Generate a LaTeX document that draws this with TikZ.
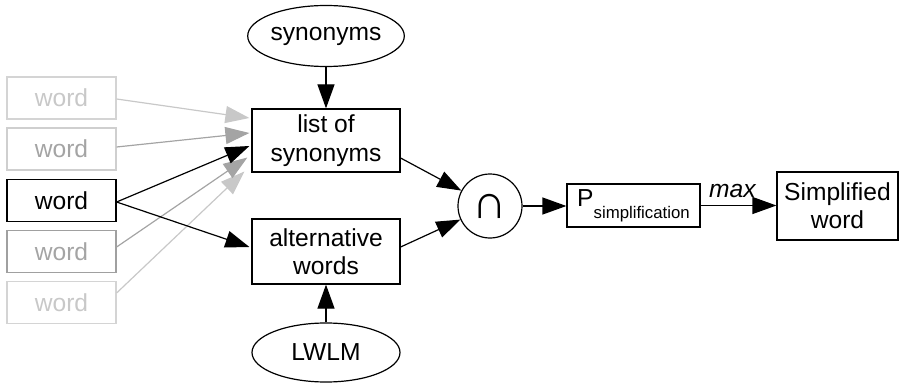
\documentclass[tikz,border=0pt]{standalone}
\usepackage{fontspec}
\setmainfont{Liberation Sans}
\usetikzlibrary{arrows.meta,shapes.geometric,calc}
\definecolor{lightg}{HTML}{C8C8C8}
\definecolor{lightb}{HTML}{D4D4D4}
\definecolor{midg}{HTML}{A4A4A4}
\definecolor{midb}{HTML}{CFCFCF}
\definecolor{darkb}{HTML}{A0A0A0}
\begin{document}
\begin{tikzpicture}[x=0.5pt,y=-0.5pt,
  every node/.style={font=\fontsize{12.3}{14.2}\selectfont, inner sep=0pt, align=center},
  box/.style={draw, line width=0.6pt, rectangle},
  wordbox/.style={box, minimum width=54.5pt, minimum height=21pt},
  oval/.style={draw, line width=0.6pt, ellipse, minimum width=74pt, minimum height=30.5pt},
  arr/.style={line width=0.6pt, -{Triangle[length=12pt,width=8.5pt]}},
  garr/.style={arr, draw=lightg, -{Triangle[length=12pt,width=8.5pt,fill=lightg]}},
  marr/.style={arr, draw=midg, -{Triangle[length=12pt,width=8.5pt,fill=midg]}}]
\useasboundingbox (0,0) rectangle (899,385);
% word boxes
\node[wordbox, draw=lightb, text=lightg] (w1) at (61.5,98) {word};
\node[wordbox, draw=midb, text=midg] (w2) at (61.5,149) {word};
\node[wordbox] (w3) at (61.5,200.5) {word};
\node[wordbox, draw=darkb, text=midg] (w4) at (61.5,251.5) {word};
\node[wordbox, draw=lightb, text=lightg] (w5) at (61.5,302.5) {word};
% central column
\node[oval] (syn) at (326,36) {synonyms};
\node[box, minimum width=74pt, minimum height=31.5pt] (list) at (326,140.5) {list of\\synonyms};
\node[box, minimum width=74pt, minimum height=32.5pt] (alt) at (326,251.5) {alternative\\words};
\node[oval, minimum height=29.5pt] (lwlm) at (326,352.5) {LWLM};
% right part
\node[draw, line width=0.6pt, circle, minimum size=32pt, font=\fontsize{24}{24}\selectfont] (circ) at (490,206) {∩};
\node[box, minimum width=66.5pt, minimum height=21.5pt] (p) at (633.5,205.5)
  {P\raisebox{-6pt}{\fontsize{8.4}{10}\selectfont simplification}};
\node[box, minimum width=60.5pt, minimum height=34pt] (simp) at (837.5,206) {Simplified\\word};
% target coordinates on list box
\coordinate (t1) at ($(list.west)+(-2,-22.5)$);
\coordinate (t2) at ($(list.west)+(-2,-7.5)$);
\coordinate (t3) at ($(list.west)+(-2,5.5)$);
\coordinate (t4) at ($(list.west)+(-4,17)$);
\coordinate (t5) at ($(list.west)+(-7,31)$);
\coordinate (ta) at ($(alt.west)+(-2,-4.5)$);
% connectors
\draw[garr] ($(w1.east)+(0,1)$) -- (t1);
\draw[marr] ($(w2.east)+(0,-2)$) -- (t2);
\draw[garr] ($(w5.east)+(0,-9.5)$) -- (t5);
\draw[marr] ($(w4.east)+(0,-4.5)$) -- (t4);
\draw[arr] ($(w3.east)+(0,1.5)$) -- (t3);
\draw[arr] ($(w3.east)+(0,1.5)$) -- (ta);
\draw[arr] (syn) -- (list);
\draw[arr] (lwlm) -- (alt);
\draw[arr] ($(list.east)+(0,17.5)$) -- (circ);
\draw[arr] ($(alt.east)+(0,-4.5)$) -- (circ);
\draw[arr] (circ.east) -- (circ.east -| p.west);
\draw[arr] (p.east) -- node[pos=0.42, above, inner sep=3.5pt, font=\fontsize{12.3}{14.2}\selectfont\itshape] {max} (p.east -| simp.west);
\end{tikzpicture}
\end{document}
